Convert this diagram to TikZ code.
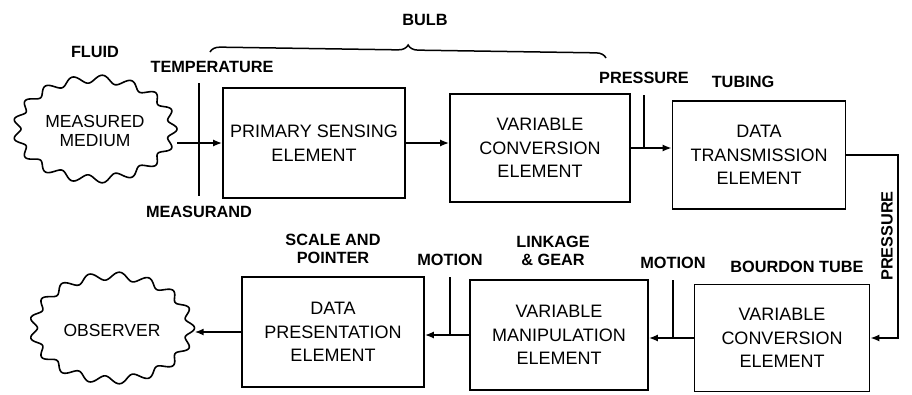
\documentclass[tikz,border=0pt]{standalone}
\usepackage{fontspec}
\setmainfont{Liberation Sans}
\usetikzlibrary{arrows.meta,shapes.geometric,decorations.pathreplacing}

\tikzset{
  block/.style={draw, line width=1.8pt, align=center, inner sep=0pt,
    font=\fontsize{18}{23.5}\selectfont},
  lbl/.style={font=\bfseries\fontsize{16.3}{18.5}\selectfont, align=center, inner sep=0pt},
  cloudtxt/.style={ellipse, align=center, inner sep=0pt,
    font=\fontsize{17.5}{18.5}\selectfont},
  arr/.style={line width=1.5pt, -{Latex[length=9pt,width=7pt]}},
  ln/.style={line width=1.5pt},
  cloudln/.style={line width=1.6pt},
}

\begin{document}
\begin{tikzpicture}[x=1pt,y=-1pt]
\useasboundingbox (0,0) rectangle (912,394);
\fill[white] (0,0) rectangle (912,394);

% clouds
\draw[cloudln] plot[domain=0:360, samples=361, smooth]
  ({95+(78+4*cos(17*\x))*cos(\x)}, {129+(50+4*cos(17*\x))*sin(\x)}) -- cycle;
\node[cloudtxt, minimum width=164pt, minimum height=108pt] (mm) at (95,131) {MEASURED\\MEDIUM};

\draw[cloudln] plot[domain=0:360, samples=361, smooth]
  ({112+(78.5+4*cos(17*\x))*cos(\x)}, {328+(52+4*cos(17*\x))*sin(\x)}) -- cycle;
\node[cloudtxt, minimum width=165pt, minimum height=112pt] (obs) at (112,330) {OBSERVER};

% blocks
\node[block, minimum width=182pt, minimum height=110pt] (pse) at (314,143) {PRIMARY SENSING\\ELEMENT};
\node[block, minimum width=180pt, minimum height=108pt] (vc1) at (540,148) {VARIABLE\\CONVERSION\\ELEMENT};
\node[block, minimum width=173pt, minimum height=108pt] (dte) at (759,155) {DATA\\TRANSMISSION\\ELEMENT};
\node[block, minimum width=182pt, minimum height=110pt] (dpe) at (333,332) {DATA\\PRESENTATION\\ELEMENT};
\node[block, minimum width=178pt, minimum height=110pt] (vme) at (559,335) {VARIABLE\\MANIPULATION\\ELEMENT};
\node[block, minimum width=175pt, minimum height=107pt] (vc2) at (782,338) {VARIABLE\\CONVERSION\\ELEMENT};

% labels
\node[lbl] (lfluid) at (95,52) {FLUID};
\node[lbl] (ltemp) at (212,67) {TEMPERATURE};
\node[lbl] (lmeas) at (199,212) {MEASURAND};
\node[lbl] (lbulb) at (425,20) {BULB};
\node[lbl] (lpres1) at (644,78) {PRESSURE};
\node[lbl] (ltub) at (743,82) {TUBING};
\node[lbl, rotate=90] (lpres2) at (887,236) {PRESSURE};
\node[lbl] (lscale) at (333,249) {SCALE AND\\POINTER};
\node[lbl] (lmot1) at (450,260) {MOTION};
\node[lbl] (llink) at (553,251) {LINKAGE\\\& GEAR};
\node[lbl] (lmot2) at (673,263) {MOTION};
\node[lbl] (lbour) at (797,267) {BOURDON TUBE};

% brace
\coordinate (b1) at (210,52);
\coordinate (b2) at (606,58);
\draw[ln, decorate, decoration={brace, amplitude=10pt}] (b1) -- (b2);

% measurand line
\coordinate (t1) at (199,83);
\coordinate (t2) at (199,196);
\draw[ln] (t1) -- (t2);

% pressure tap
\coordinate (p1) at (644,95);
\draw[ln] (p1) -- (p1 |- vc1.east);

% motion taps
\coordinate (m2) at (673,280);
\draw[ln] (m2) -- (m2 |- vc2.west);
\coordinate (m1) at (450,277);
\draw[ln] (m1) -- (m1 |- vme.west);

% connectors
\draw[arr] (mm.east |- pse.west) -- (pse.west);
\draw[arr] (pse.east) -- (pse.east -| vc1.west);
\draw[arr] (vc1.east) -- (vc1.east -| dte.west);
\coordinate (rt) at (898,155);
\draw[arr] (dte.east) -- (rt) -- (rt |- vc2.east) -- (vc2.east);
\draw[arr] (vc2.west) -- (vc2.west -| vme.east);
\draw[arr] (vme.west) -- (vme.west -| dpe.east);
\draw[arr] (dpe.west) -- (dpe.west -| obs.east);
\end{tikzpicture}
\end{document}
